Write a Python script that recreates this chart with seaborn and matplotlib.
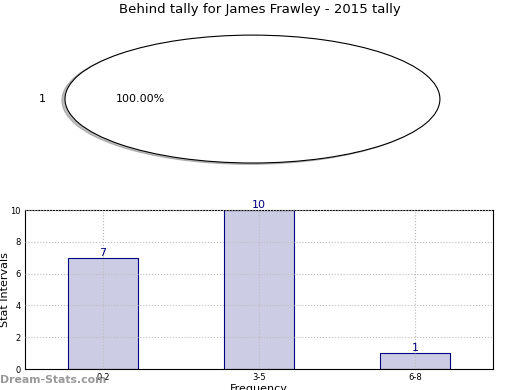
import matplotlib
matplotlib.use("Agg")
import matplotlib.pyplot as plt
import seaborn as sns
import pandas as pd

title = "Behind tally for James Frawley - 2015 tally"
pie_labels = ["1"]
pie_values = [100.0]
intervals = ["0-2", "3-5", "6-8"]
counts = [7, 10, 1]

sns.set_style("white")
plt.rcParams['font.family'] = ['DejaVu Sans']
plt.rcParams['text.color'] = 'black'
plt.rcParams['axes.labelcolor'] = 'black'
plt.rcParams['xtick.color'] = 'black'
plt.rcParams['ytick.color'] = 'black'

fig = plt.figure(figsize=(5.2, 3.9), dpi=100)

# pie on top
ax_pie = fig.add_axes([0.125, 0.582, 0.721, 0.328])
ax_pie.pie(pie_values, labels=pie_labels, autopct="%1.2f%%",
           shadow={"ox": -0.012, "oy": -0.015, "shade": 0.5},
           colors=["white"], wedgeprops={"edgecolor": "black", "linewidth": 0.8},
           textprops={"fontsize": 8})
ax_pie.set_aspect("auto")
ax_pie.set_xlim(-1, 1)
ax_pie.set_ylim(-1, 1)
fig.text(0.5, 1 - 10 / 390, title, ha="center", va="center", fontsize=9.5)

# bar chart below
df = pd.DataFrame({"interval": intervals, "count": counts})
ax = fig.add_axes([0.048, 0.0538, 0.9, 0.4077])
sns.barplot(data=df, x="interval", y="count", ax=ax, width=0.45,
            color="#ccccE5", saturation=1, edgecolor="#000080", linewidth=0.8)
for i, v in enumerate(counts):
    ax.text(i, v, str(v), ha="center", va="bottom", color="#000080", fontsize=8)
ax.set_xlim(-0.5, 2.5)
ax.set_ylim(0, 10)
ax.set_yticks([0, 2, 4, 6, 8, 10])
ax.grid(True, linestyle=":", color="#bbbbbb", linewidth=0.8)
ax.set_axisbelow(False)
for s in ax.spines.values():
    s.set_color("black")
    s.set_linewidth(0.8)
ax.tick_params(labelsize=6, length=2, direction="in", pad=3)
ax.set_xlabel("Frequency", fontsize=8)
ax.set_ylabel("Stat Intervals", fontsize=8)
ax.yaxis.set_label_coords(-0.032, 0.5)
ax.xaxis.set_label_coords(0.5, -0.094)

fig.text(0.0, 10 / 390, "Dream-Stats.com", fontsize=7.8, fontweight="bold",
         color="#999999", ha="left", va="center")

fig.savefig("out.png", dpi=100)
